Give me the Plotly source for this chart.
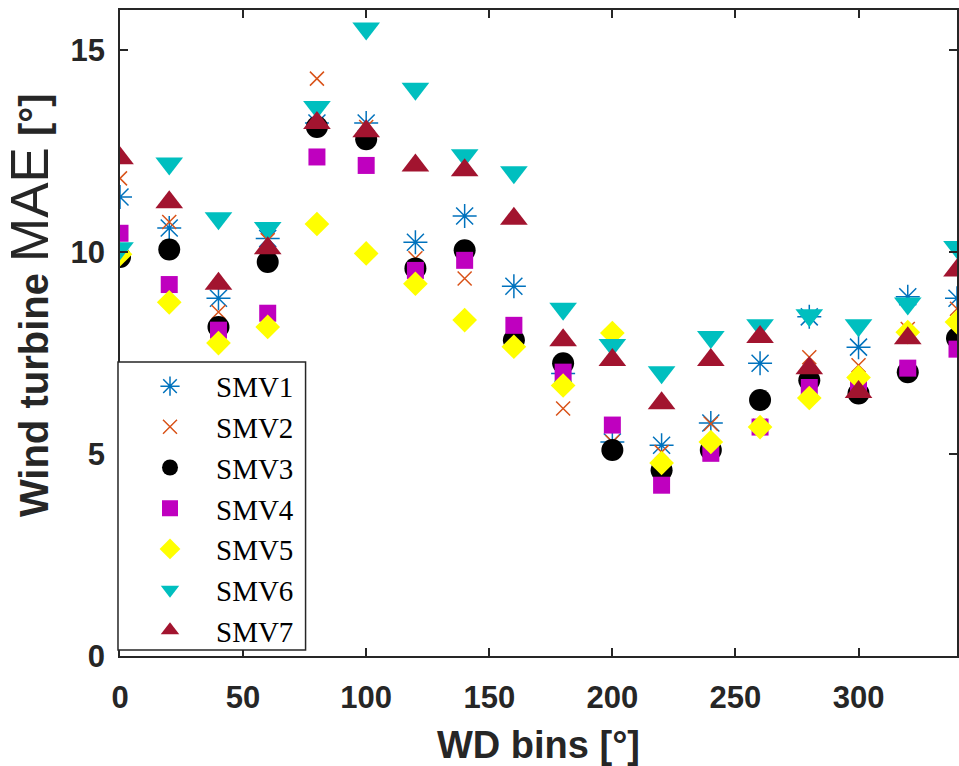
import plotly.graph_objects as go

wd_bins = [0, 20, 40, 60, 80, 100, 120, 140, 160, 180, 200, 220, 240, 260, 280, 300, 320, 340]

smv1 = [11.37, 10.6, 8.86, 10.34, 13.2, 13.2, 10.25, 10.9, 9.16, 7.0, 5.3, 5.22, 5.77, 7.25, 8.4, 7.65, 8.9, 8.86]
smv2 = [11.83, 10.75, 8.52, 10.3, 14.3, 13.1, 9.85, 9.35, 7.8, 6.13, 5.3, 5.05, 5.75, 5.7, 7.4, 7.2, 8.1, 8.6]
smv3 = [9.88, 10.07, 8.15, 9.76, 13.1, 12.8, 9.6, 10.05, 7.82, 7.25, 5.1, 4.6, 5.1, 6.34, 6.83, 6.5, 7.03, 7.87]
smv4 = [10.47, 9.2, 8.07, 8.49, 12.36, 12.15, 9.55, 9.8, 8.19, 7.03, 5.72, 4.23, 5.02, 5.67, 6.65, 6.66, 7.13, 7.6]
smv5 = [9.95, 8.76, 7.75, 8.15, 10.7, 9.97, 9.22, 8.32, 7.66, 6.7, 8.0, 4.78, 5.3, 5.67, 6.39, 6.9, 8.02, 8.27]
smv6 = [10.1, 12.2, 10.84, 10.6, 13.6, 15.54, 14.05, 12.4, 11.98, 8.6, 7.7, 7.03, 7.9, 8.19, 8.44, 8.19, 8.73, 10.13]
smv7 = [12.33, 11.24, 9.22, 10.1, 13.2, 13.0, 12.15, 12.03, 10.83, 7.82, 7.33, 6.26, 7.33, 7.9, 7.13, 6.54, 7.87, 9.55]

series_names = ["SMV1", "SMV2", "SMV3", "SMV4", "SMV5", "SMV6", "SMV7"]
series_values = [smv1, smv2, smv3, smv4, smv5, smv6, smv7]

x_ticks = [0, 50, 100, 150, 200, 250, 300]
y_ticks = [0, 5, 10, 15]

styles = [
    dict(symbol="asterisk-open", size=20, color="#0072BD", line=dict(width=1.5, color="#0072BD")),
    dict(symbol="x-thin-open", size=14, color="#D95319", line=dict(width=1.5, color="#D95319")),
    dict(symbol="circle", size=22, color="#000000", line=dict(width=0)),
    dict(symbol="square", size=17, color="#BF00BF", line=dict(width=0)),
    dict(symbol="diamond", size=19, color="#FFFF00", line=dict(width=0)),
    dict(symbol="triangle-down", size=24, color="#00BFBF", line=dict(width=0)),
    dict(symbol="triangle-up", size=24, color="#A2142F", line=dict(width=0)),
]

fig = go.Figure()
for name, vals, st in zip(series_names, series_values, styles):
    fig.add_trace(go.Scatter(x=wd_bins, y=vals, mode="markers", name=name,
                             marker=st, cliponaxis=True))

axis_color = "#262626"
tick_font = dict(family="Liberation Sans, Arial, sans-serif", size=31, color=axis_color, weight="bold")

fig.update_layout(
    width=959, height=766,
    margin=dict(l=120, r=0, t=10, b=110),
    paper_bgcolor="white", plot_bgcolor="white",
    showlegend=True,
    legend=dict(
        x=0.0, y=0.457, xanchor="left", yanchor="top",
        bgcolor="rgba(0,0,0,0)", borderwidth=0,
        font=dict(family="Liberation Serif, Times New Roman, serif", size=29, color="#000000"),
        indentation=4, itemwidth=82,
    ),
    shapes=[dict(
        type="rect", xref="paper", yref="paper",
        x0=-0.0024, x1=0.2217, y0=0.0093, y1=0.455,
        line=dict(color=axis_color, width=1.5), fillcolor="white", layer="above",
    )],
    xaxis=dict(
        range=[0, 340], tickvals=x_ticks, ticks="inside", ticklen=8, tickwidth=1.5,
        tickcolor=axis_color, showline=True, linecolor=axis_color, linewidth=1.5,
        mirror="ticks", showgrid=False, zeroline=False, tickfont=tick_font,
        ticklabelstandoff=13,
        title=dict(text="<b>WD bins [°]</b>", font=dict(family="Liberation Sans, Arial, sans-serif", size=38, color=axis_color), standoff=23),
    ),
    yaxis=dict(
        range=[0, 16], tickvals=y_ticks, ticks="inside", ticklen=8, tickwidth=1.5,
        tickcolor=axis_color, showline=True, linecolor=axis_color, linewidth=1.5,
        mirror="ticks", showgrid=False, zeroline=False, tickfont=tick_font,
        ticklabelstandoff=7,
        title=dict(
            text="&nbsp;&nbsp;&nbsp;&nbsp;&nbsp;<b>Wind turbine</b> <span style='font-size:53px'>MAE</span> <b>[°]</b>",
            font=dict(family="Liberation Sans, Arial, sans-serif", size=40, color=axis_color),
            standoff=14,
        ),
    ),
)

fig.write_html(
    "out.html",
    config={"displayModeBar": False},
    post_script="document.body.style.margin='0';document.body.style.overflow='hidden';",
)
